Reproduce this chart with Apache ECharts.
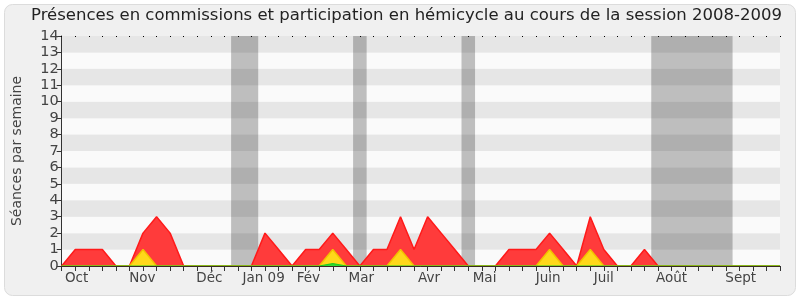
<!DOCTYPE html>
<html><head><meta charset="utf-8">
<script src="https://cdn.jsdelivr.net/npm/echarts@6/dist/echarts.min.js"></script>
<style>html,body{margin:0;padding:0;background:#fff}#c{width:800px;height:300px}</style>
</head><body><div id="c"></div>
<script>
// week index 0..53 over the 2008-2009 session
const weeks = Array.from({length: 54}, (_, i) => i);
const redValues = [0,1,1,1,0,0,2,3,2,0, 0,0,0,0,0,2,1,0,1,1, 2,1,0,1,1,3,1,3,2,1, 0,0,0,1,1,1,2,1,0,3, 1,0,0,1,0,0,0,0,0,0, 0,0,0,0];
const yellowValues = [0,0,0,0,0,0,1,0,0,0, 0,0,0,0,0,0,0,0,0,0, 1,0,0,0,0,1,0,0,0,0, 0,0,0,0,0,0,1,0,0,1, 0,0,0,0,0,0,0,0,0,0, 0,0,0,0];
const greenValues = [0,0,0,0,0,0,0,0,0,0, 0,0,0,0,0,0,0,0,0,0, 0.15,0,0,0,0,0,0,0,0,0, 0,0,0,0,0,0,0,0,0,0, 0,0,0,0,0,0,0,0,0,0, 0,0,0,0];
const monthLabels = ['Oct','Nov','Déc','Jan 09','Fév','Mar','Avr','Mai','Juin','Juil','Août','Sept'];
const monthPositions = [1.1,5.95,10.9,14.9,18.2,22.1,27.1,31.2,35.9,40.0,45.0,50.1];
const vacations = [[12.5,14.5],[21.5,22.5],[29.5,30.5],[43.5,49.5]];

const labelMap = {};
monthPositions.forEach((p,i)=>{labelMap[p]=monthLabels[i];});
const pairs = v => weeks.map((w,i)=>[w, v[i]]);

const chart = echarts.init(document.getElementById('c'));
chart.setOption({
  animation: false,
  backgroundColor: '#ffffff',
  graphic: [{type:'rect', z:-10, shape:{x:4.5,y:4.5,width:791,height:291,r:8}, style:{fill:'#f0f0f0', stroke:'#dcdcdc', lineWidth:1}}],
  title: {text: 'Présences en commissions et participation en hémicycle au cours de la session 2008-2009',
    left: 26, top: 2, textStyle:{fontFamily:'DejaVu Sans', fontWeight:'normal', fontSize:16.5, color:'#222'}},
  grid: {left: 61.7, right: 20, top: 36, bottom: 34},
  xAxis: [{
    type:'value', min:0, max:53, interval:1, position:'bottom', z:10,
    axisLine:{show:true, lineStyle:{color:'#3a2a22', width:1}},
    axisTick:{show:true, length:5, lineStyle:{color:'#333'}},
    axisLabel:{customValues: monthPositions, formatter: v => labelMap[v] || '', fontFamily:'DejaVu Sans', fontSize:13.5, color:'#444', margin:5},
    splitLine:{show:false}
  },{
    type:'value', min:0, max:53, interval:1, position:'top',
    axisLine:{show:false},
    axisTick:{show:true, inside:true, length:1, lineStyle:{color:'#000'}},
    axisLabel:{show:false}, splitLine:{show:false}
  }],
  yAxis: {
    type:'value', min:0, max:14, interval:1,
    name:'Séances par semaine', nameLocation:'middle', nameGap:37,
    nameTextStyle:{fontFamily:'DejaVu Sans', fontSize:14, color:'#444'},
    axisLine:{show:true, lineStyle:{color:'#333'}},
    axisTick:{show:true, length:5, lineStyle:{color:'#333'}},
    axisLabel:{fontFamily:'DejaVu Sans', fontSize:14.5, color:'#444', margin:3},
    splitLine:{show:false},
    splitArea:{show:true, areaStyle:{color:['#fafafa','#e6e6e6']}}
  },
  series: [
    {type:'line', data:[], z:1, silent:true,
     markArea:{silent:true, itemStyle:{color:'rgba(0,0,0,0.24)'},
       data: vacations.map(v=>[{xAxis:v[0]},{xAxis:v[1]}])}},
    {type:'line', data:pairs(redValues), z:2, symbol:'none', smooth:false,
     lineStyle:{color:'#ff1a1a', width:1.5}, areaStyle:{color:'#ff3b3b', opacity:1}},
    {type:'line', data:pairs(yellowValues), z:3, symbol:'none',
     lineStyle:{color:'#f2c200', width:1.5}, areaStyle:{color:'#ffd81a', opacity:1}},
    {type:'line', data:pairs(greenValues), z:4, symbol:'none',
     lineStyle:{color:'#22cc22', width:1.2}, areaStyle:{color:'#33dd33', opacity:1}}
  ]
});
</script></body></html>
